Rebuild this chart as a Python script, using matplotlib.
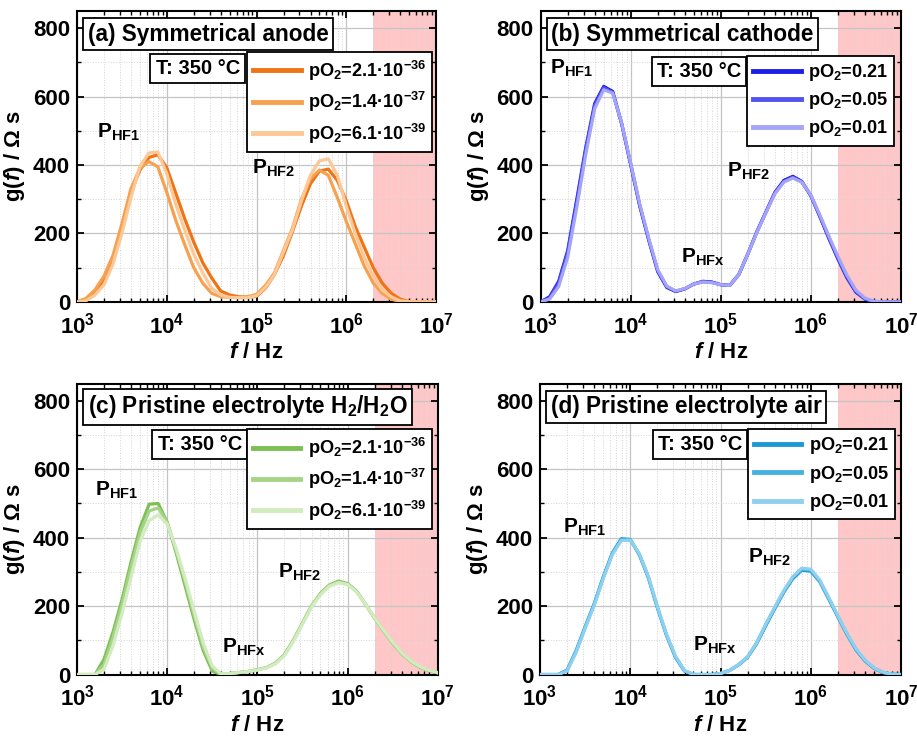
import matplotlib
matplotlib.use("Agg")
import matplotlib.pyplot as plt
import numpy as np
from matplotlib.ticker import FixedLocator, MultipleLocator, LogLocator, NullFormatter

plt.rcParams['font.family'] = ['Liberation Sans', 'DejaVu Sans']
plt.rcParams['font.weight'] = 'bold'
plt.rcParams['axes.labelweight'] = 'bold'
plt.rcParams['mathtext.fontset'] = 'custom'
plt.rcParams['mathtext.rm'] = 'Liberation Sans:bold'
plt.rcParams['mathtext.bf'] = 'Liberation Sans:bold'
plt.rcParams['mathtext.it'] = 'Liberation Sans:bold:italic'
plt.rcParams['mathtext.default'] = 'rm'

# log10 of frequency (Hz)
log_f = [3.0, 3.1, 3.2, 3.3, 3.4, 3.5, 3.6, 3.7, 3.8, 3.9,
         4.0, 4.1, 4.2, 4.3, 4.4, 4.5, 4.6, 4.7, 4.8, 4.9,
         5.0, 5.1, 5.2, 5.3, 5.4, 5.5, 5.6, 5.7, 5.8, 5.9,
         6.0, 6.1, 6.2, 6.3, 6.4, 6.5, 6.6, 6.7, 6.8, 6.9, 7.0]

# (a) symmetrical anode
anode_labels = ['pO$_2$=2.1·10$^{-36}$', 'pO$_2$=1.4·10$^{-37}$', 'pO$_2$=6.1·10$^{-39}$']
anode_1 = [0, 8, 30, 65, 125, 218, 320, 385, 422, 430, 392, 318, 243, 175, 115, 70, 32, 20, 15, 14,
           16, 40, 80, 135, 205, 280, 345, 382, 388, 355, 295, 220, 160, 100, 55, 25, 8, 0, 0, 0, 0]
anode_2 = [0, 10, 35, 75, 135, 228, 330, 390, 410, 395, 320, 238, 167, 100, 55, 25, 15, 13, 13, 15,
           22, 48, 85, 150, 215, 300, 360, 385, 370, 305, 235, 170, 105, 55, 25, 8, 0, 0, 0, 0, 0]
anode_3 = [0, 3, 20, 50, 110, 200, 305, 395, 435, 438, 375, 285, 210, 140, 85, 40, 20, 13, 12, 12,
           18, 42, 80, 145, 210, 295, 370, 412, 418, 370, 280, 200, 130, 75, 35, 15, 3, 0, 0, 0, 0]

# (b) symmetrical cathode
air_labels = ['pO$_2$=0.21', 'pO$_2$=0.05', 'pO$_2$=0.01']
cathode_1 = [0, 15, 60, 150, 298, 450, 580, 630, 615, 520, 400, 280, 180, 88, 42, 30, 38, 52, 60, 58,
             50, 48, 80, 140, 205, 262, 320, 355, 367, 352, 310, 249, 185, 125, 70, 28, 8, 0, 0, 0, 0]
cathode_2 = [0, 12, 55, 145, 290, 445, 575, 626, 612, 520, 402, 282, 182, 90, 44, 31, 38, 52, 59, 57,
             50, 48, 80, 140, 204, 262, 318, 352, 364, 350, 310, 250, 187, 128, 73, 30, 9, 0, 0, 0, 0]
cathode_3 = [0, 8, 45, 130, 275, 430, 565, 620, 610, 522, 405, 286, 186, 94, 46, 32, 39, 52, 58, 56,
             50, 48, 80, 140, 203, 260, 316, 350, 362, 350, 312, 254, 192, 133, 78, 34, 11, 2, 0, 0, 0]

# (c) pristine electrolyte H2/H2O
elyte_h2_1 = [0, 0, 0, 45, 125, 220, 330, 430, 498, 500, 445, 355, 258, 160, 70, 10, 0, 3, 6, 9,
              14, 20, 33, 58, 100, 150, 200, 237, 262, 273, 266, 244, 205, 165, 128, 92, 62, 38, 22, 12, 5]
elyte_h2_2 = [0, 0, 0, 30, 110, 205, 315, 415, 478, 487, 445, 362, 270, 172, 80, 18, 0, 3, 6, 9,
              14, 20, 33, 58, 100, 150, 200, 236, 261, 271, 265, 243, 205, 165, 128, 92, 62, 38, 22, 12, 5]
elyte_h2_3 = [0, 0, 0, 15, 85, 180, 285, 390, 450, 467, 440, 368, 280, 185, 92, 25, 2, 3, 6, 9,
              13, 19, 31, 55, 97, 147, 197, 233, 258, 268, 263, 242, 205, 166, 130, 95, 64, 40, 24, 13, 6]

# (d) pristine electrolyte air
elyte_air_1 = [0, 0, 0, 13, 70, 140, 207, 285, 355, 397, 395, 350, 283, 195, 115, 50, 10, 0, 0, 0,
               3, 12, 28, 50, 90, 142, 192, 240, 280, 305, 302, 271, 220, 168, 117, 72, 40, 18, 6, 1, 0]
elyte_air_2 = [0, 0, 0, 12, 68, 138, 205, 283, 353, 394, 393, 352, 285, 197, 117, 52, 11, 0, 0, 0,
               3, 12, 29, 52, 92, 145, 195, 243, 283, 308, 305, 273, 222, 170, 119, 74, 41, 19, 6, 1, 0]
elyte_air_3 = [0, 0, 0, 10, 65, 135, 202, 280, 350, 392, 393, 353, 287, 199, 119, 54, 12, 1, 0, 0,
               3, 12, 29, 52, 93, 147, 197, 245, 286, 311, 308, 276, 225, 172, 121, 76, 43, 20, 7, 1, 0]

x_ticks = [1e3, 1e4, 1e5, 1e6, 1e7]
x_tick_labels = ['10$^3$', '10$^4$', '10$^5$', '10$^6$', '10$^7$']
y_ticks = [0, 200, 400, 600, 800]
hf_limit = 2e6

freq = 10 ** np.array(log_f)

panels = [
    dict(pos=[0.084, 0.591, 0.3915, 0.394], title='(a) Symmetrical anode',
         series=[anode_1, anode_2, anode_3], labels=anode_labels,
         colors=['#f07316', '#f7a150', '#fcc895'],
         tbox=(0.336, 0.804), leg=(0.99, 0.858),
         peaks=[('P$_{\\rm HF1}$', 1.65e3, 481), ('P$_{\\rm HF2}$', 8.9e4, 376)]),
    dict(pos=[0.5896, 0.591, 0.3929, 0.394], title='(b) Symmetrical cathode',
         series=[cathode_1, cathode_2, cathode_3], labels=air_labels,
         colors=['#1e1ee6', '#5252f0', '#a4a4f8'],
         tbox=(0.44, 0.792), leg=(0.982, 0.847),
         peaks=[('P$_{\\rm HF1}$', 1.26e3, 668), ('P$_{\\rm HFx}$', 3.6e4, 113),
                ('P$_{\\rm HF2}$', 1.18e5, 365)]),
    dict(pos=[0.084, 0.086, 0.3933, 0.394], title='(c) Pristine electrolyte H$_2$/H$_2$O',
         series=[elyte_h2_1, elyte_h2_2, elyte_h2_3], labels=anode_labels,
         colors=['#7cbf52', '#a6d487', '#d2ebbf'],
         tbox=(0.34, 0.791), leg=(0.985, 0.843),
         peaks=[('P$_{\\rm HF1}$', 1.58e3, 522), ('P$_{\\rm HFx}$', 4.1e4, 63),
                ('P$_{\\rm HF2}$', 1.7e5, 283)]),
    dict(pos=[0.5889, 0.086, 0.3937, 0.394], title='(d) Pristine electrolyte air',
         series=[elyte_air_1, elyte_air_2, elyte_air_3], labels=air_labels,
         colors=['#1c98d6', '#46b2e0', '#8ed0ee'],
         tbox=(0.443, 0.79), leg=(0.984, 0.844),
         peaks=[('P$_{\\rm HF1}$', 1.8e3, 415), ('P$_{\\rm HFx}$', 5.0e4, 69),
                ('P$_{\\rm HF2}$', 2.0e5, 327)]),
]

fig = plt.figure(figsize=(9.17, 7.38), dpi=100)

for p in panels:
    ax = fig.add_axes(p['pos'])
    ax.axvspan(hf_limit, 1e7, color='#ff0000', alpha=0.22, lw=0, zorder=0)
    for vals, lab, col in zip(p['series'], p['labels'], p['colors']):
        ax.plot(freq, vals, color=col, lw=2.3, label=lab, zorder=3,
                solid_joinstyle='round')

    ax.set_xscale('log')
    ax.set_xlim(1e3, 1e7)
    ax.set_ylim(0, 850)
    ax.xaxis.set_major_locator(FixedLocator(x_ticks))
    ax.set_xticklabels(x_tick_labels)
    ax.xaxis.set_minor_locator(LogLocator(base=10, subs=np.arange(2, 10), numticks=20))
    ax.xaxis.set_minor_formatter(NullFormatter())
    ax.set_yticks(y_ticks)
    ax.yaxis.set_minor_locator(MultipleLocator(100))

    ax.grid(which='major', color='#c4c4c4', lw=0.9, zorder=1)
    ax.grid(which='minor', color='#d4d4d4', lw=0.7, ls=':', zorder=1)
    ax.set_axisbelow(True)
    ax.tick_params(which='both', direction='in', top=True, right=True)
    ax.tick_params(which='major', length=5, width=1.3, labelsize=16)
    ax.tick_params(axis='x', which='major', pad=7.5)
    ax.tick_params(axis='y', which='major', pad=5)
    ax.tick_params(which='minor', length=3, width=1.0)
    for s in ax.spines.values():
        s.set_linewidth(1.5)

    ax.set_xlabel('$\\mathit{f}$ / Hz', fontsize=16, labelpad=3)
    ax.set_ylabel('g($\\mathit{f}$) / Ω s', fontsize=16, labelpad=4)

    ax.text(0.03, 0.921, p['title'], transform=ax.transAxes, fontsize=16.3,
            va='center', ha='left', zorder=6,
            bbox=dict(boxstyle='square,pad=0.2', fc='white', ec='black', lw=1.3))
    ax.text(p['tbox'][0], p['tbox'][1], 'T: 350 °C', transform=ax.transAxes, fontsize=14.5,
            va='center', ha='center', zorder=6,
            bbox=dict(boxstyle='square,pad=0.25', fc='white', ec='black', lw=1.3))
    for txt, px, py in p['peaks']:
        ax.text(px, py, txt, fontsize=15, ha='left', va='baseline', zorder=5)

    leg = ax.legend(loc='upper right', bbox_to_anchor=p['leg'], fontsize=13.1,
                    handlelength=2.6, handletextpad=0.4, borderpad=0.35,
                    labelspacing=0.4, fancybox=False, framealpha=1,
                    edgecolor='black', borderaxespad=0)
    leg.get_frame().set_linewidth(1.3)
    leg.set_zorder(7)
    for h in leg.get_lines():
        h.set_linewidth(3.5)

fig.savefig('out.png', dpi=100)
